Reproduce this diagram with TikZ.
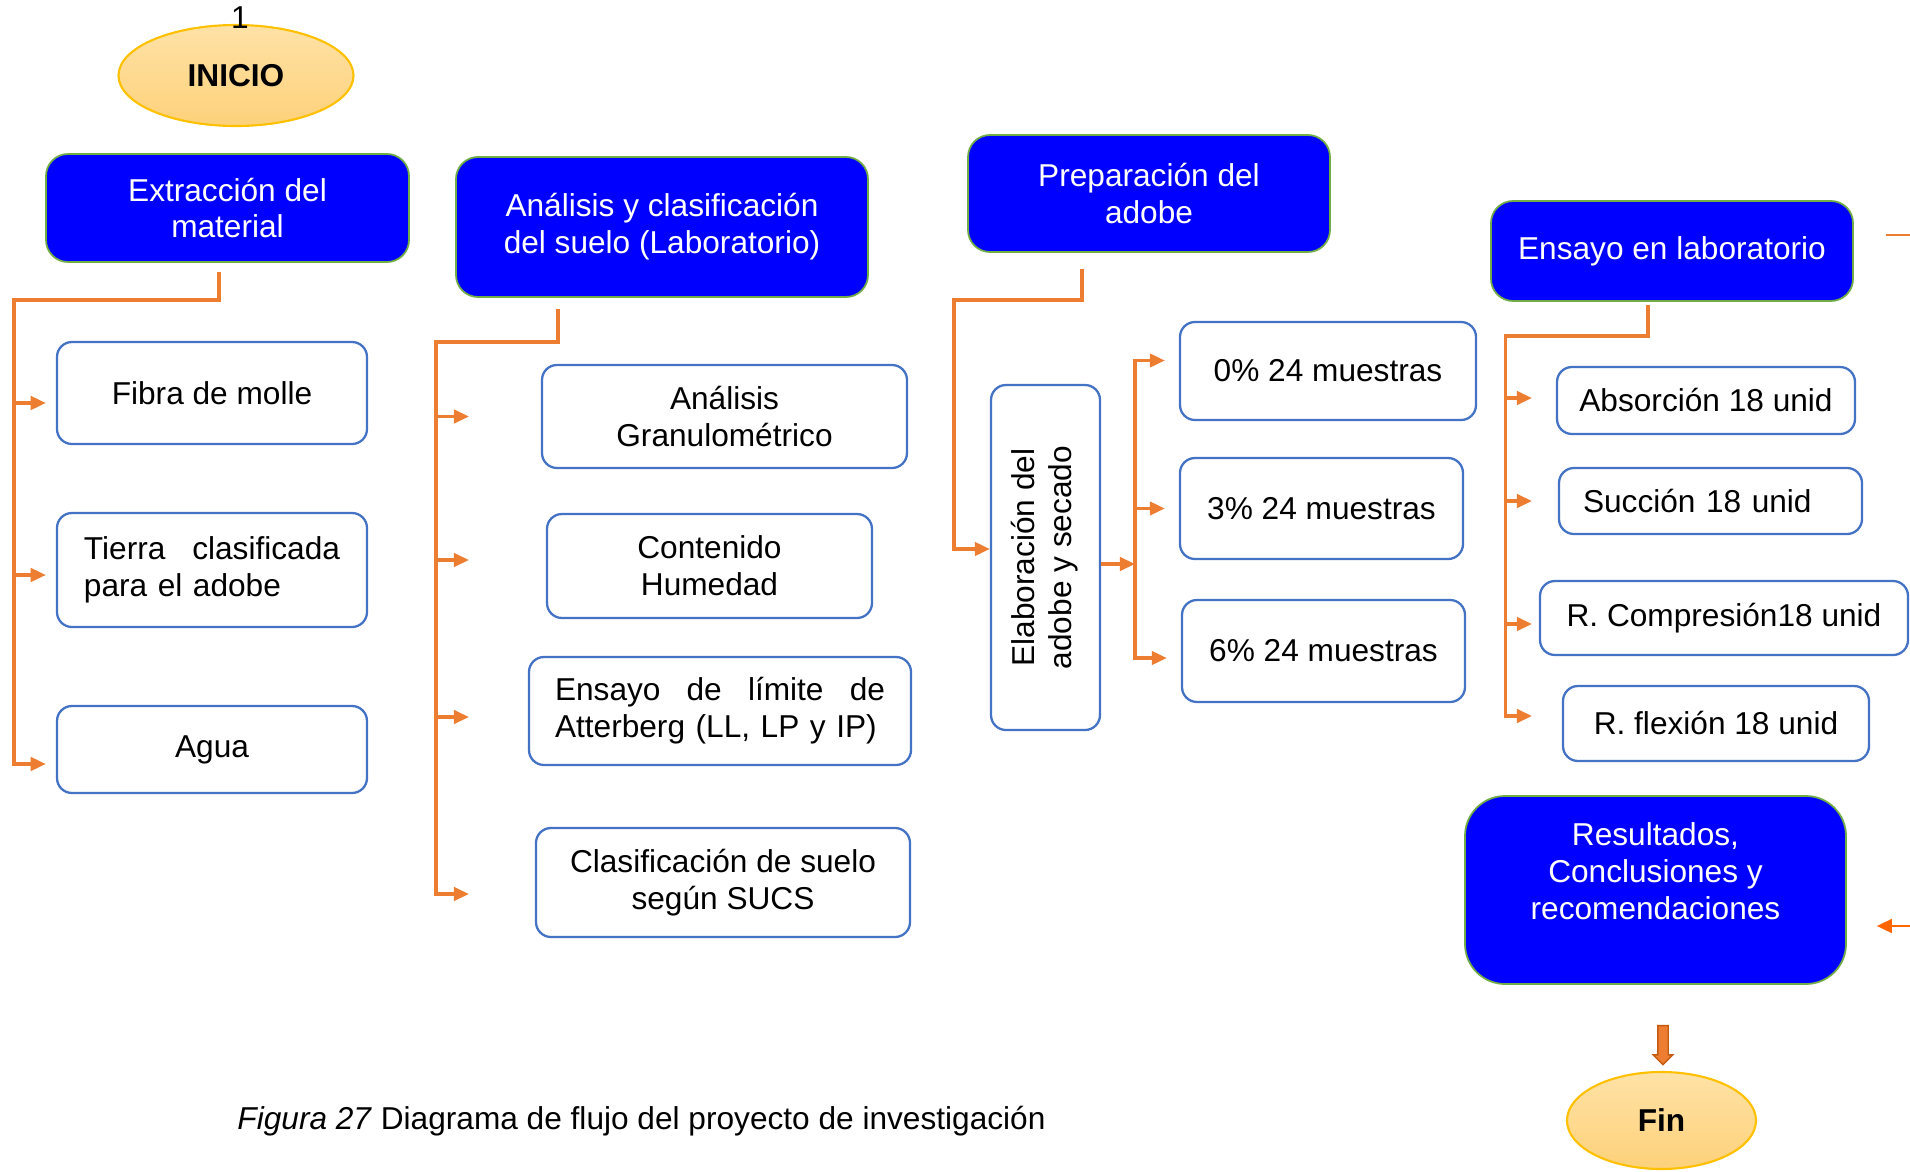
\documentclass[tikz,border=0pt]{standalone}
\usepackage{fontspec}
\setmainfont{Liberation Sans}
\usetikzlibrary{arrows.meta,shapes.geometric,shapes.arrows,positioning}

\definecolor{headblue}{HTML}{0000FF}
\definecolor{headline}{HTML}{70AD47}
\definecolor{itemline}{HTML}{4472C4}
\definecolor{linkorange}{HTML}{ED7D31}
\definecolor{ovaltop}{HTML}{FFE2A6}
\definecolor{ovalbot}{HTML}{FDD17A}
\definecolor{ovalline}{HTML}{FFC000}
\definecolor{redorange}{HTML}{FF6600}
\definecolor{darkorange}{HTML}{C55A11}

\begin{document}
\begin{tikzpicture}[
        every node/.style={font=\fontsize{9}{10.5}\selectfont},
        head/.style={draw=headline, fill=headblue, text=white, rounded corners=0.22cm, align=center, line width=0.5pt, inner sep=0pt},
        item/.style={draw=itemline, fill=white, rounded corners=0.15cm, align=center, line width=0.65pt, inner sep=0pt},
        oval/.style={ellipse, draw=ovalline, top color=ovaltop, bottom color=ovalbot, line width=0.6pt, inner sep=0pt, font=\fontsize{9}{10.5}\selectfont\bfseries},
        link/.style={draw=linkorange, line width=0.95pt, -{Triangle[length=4.3pt,width=3.8pt]}},
        blockarrow/.style={single arrow, rotate=-90, draw=darkorange, fill=linkorange, line width=0.4pt, inner sep=0.045cm, minimum width=0.18cm, minimum height=0.39cm, single arrow head extend=0.045cm}
    ]
        \useasboundingbox (0,0) rectangle (19.1,-11.72);

        % inicio y encabezados
        \node[oval, minimum width=2.35cm, minimum height=1.01cm] (inicio) at (2.36,-0.755) {INICIO};
        \node (num) at (2.40,-0.175) {1};
        \node[head, minimum width=3.63cm, minimum height=1.08cm] (extr) at (2.275,-2.08) {Extracción del\\material};
        \node[head, minimum width=4.12cm, minimum height=1.40cm] (anal) at (6.62,-2.27) {Análisis y clasificación\\del suelo (Laboratorio)};
        \node[head, minimum width=3.62cm, minimum height=1.17cm] (prep) at (11.49,-1.935) {Preparación del\\adobe};
        \node[head, minimum width=3.62cm, minimum height=1.00cm] (ens) at (16.72,-2.51) {Ensayo en laboratorio};

        % materiales
        \node[item, minimum width=3.10cm, minimum height=1.02cm] (fibra) at (2.12,-3.93) {Fibra de molle};
        \node[item, minimum width=3.10cm, minimum height=1.14cm, text width=2.56cm, align=left] (tierra) at (2.12,-5.70) {Tierra\hfill clasificada\\para el adobe};
        \node[item, minimum width=3.10cm, minimum height=0.87cm] (agua) at (2.12,-7.495) {Agua};

        % ensayos de suelo
        \node[item, minimum width=3.65cm, minimum height=1.03cm] (gran) at (7.245,-4.165) {Análisis\\Granulométrico};
        \node[item, minimum width=3.25cm, minimum height=1.04cm] (hum) at (7.095,-5.66) {Contenido\\Humedad};
        \node[item, minimum width=3.82cm, minimum height=1.08cm, text width=3.30cm, align=left] (atter) at (7.20,-7.11) {Ensayo\hfill de\hfill límite\hfill de\\Atterberg (LL, LP y IP)};
        \node[item, minimum width=3.74cm, minimum height=1.09cm] (sucs) at (7.23,-8.825) {Clasificación de suelo\\según SUCS};

        % adobe
        \node[item, minimum width=1.09cm, minimum height=3.45cm] (elab) at (10.455,-5.575) {\rotatebox{90}{\begin{tabular}{@{}c@{}}Elaboración del\\adobe y secado\end{tabular}}};
        \node[item, minimum width=2.96cm, minimum height=0.98cm] (p0) at (13.28,-3.71) {0\% 24 muestras};
        \node[item, minimum width=2.83cm, minimum height=1.01cm] (p3) at (13.215,-5.085) {3\% 24 muestras};
        \node[item, minimum width=2.83cm, minimum height=1.02cm] (p6) at (13.235,-6.51) {6\% 24 muestras};

        % ensayos del adobe
        \node[item, minimum width=2.98cm, minimum height=0.67cm] (absor) at (17.06,-4.005) {Absorción 18 unid};
        \node[item, minimum width=3.03cm, minimum height=0.66cm, text width=2.55cm, align=left] (succ) at (17.105,-5.01) {Succión 18 unid};
        \node[item, minimum width=3.68cm, minimum height=0.74cm] (comp) at (17.24,-6.18) {R. Compresión18 unid};
        \node[item, minimum width=3.06cm, minimum height=0.75cm] (flex) at (17.16,-7.235) {R. flexión 18 unid};

        % cierre
        \node[head, rounded corners=0.4cm, minimum width=3.81cm, minimum height=1.88cm] (res) at (16.555,-8.90) {};
        \node[text=white, align=center] (restxt) at (16.555,-8.715) {Resultados,\\Conclusiones y\\recomendaciones};
        \node[blockarrow] (down) at (16.63,-10.425) {};
        \node[oval, minimum width=1.89cm, minimum height=0.97cm] (fin) at (16.615,-11.205) {Fin};
        \node (caption) at (6.415,-11.21) {\textit{Figura 27} Diagrama de flujo del proyecto de investigación};

        \coordinate (trA) at (0.14,-3.00);
        \coordinate (trB) at (4.36,-3.42);
        \coordinate (trC) at (9.54,-3.00);
        \coordinate (trD) at (15.055,-3.36);
        \coordinate (tipB) at (4.69,0);
        \coordinate (tipD) at (15.32,0);
        \coordinate (mid) at (11.35,-5.64);
        \coordinate (stubA) at (18.86,-2.35);
        \coordinate (stubB) at (19.10,-2.35);
        \coordinate (edgeR) at (19.10,-9.26);

        % puntas de flecha
        \foreach \b/\s in {fibra/-0.10,tierra/-0.05,agua/-0.145}
            \path (\b.west) ++(-0.1,\s) coordinate (in-\b);
        \foreach \b/\s in {gran/0,hum/0.06,atter/-0.06,sucs/-0.115}
            \path (tipB |- \b.west) ++(0,\s) coordinate (in-\b);
        \foreach \b/\s in {p0/0.105,p3/0,p6/-0.07}
            \path (\b.west) ++(-0.14,\s) coordinate (in-\b);
        \foreach \b/\s in {absor/0.025,succ/0,comp/-0.06,flex/0.075}
            \path (tipD |- \b.west) ++(0,\s) coordinate (in-\b);

        \draw[link] ([xshift=-0.085cm,yshift=-0.09cm]extr.south) |- (trA) |- (in-agua);
        \foreach \b in {fibra,tierra}
            \draw[link] (trA |- in-\b) -- (in-\b);

        \draw[link] ([xshift=-1.04cm,yshift=-0.11cm]anal.south) |- (trB) |- (in-sucs);
        \foreach \b in {gran,hum,atter}
            \draw[link] (trB |- in-\b) -- (in-\b);

        \draw[link] ([xshift=-0.67cm,yshift=-0.16cm]prep.south) |- (trC) |- ([yshift=0.085cm]elab.west);
        \draw[link] (elab.east |- mid) -- (mid);
        \draw[link] (mid) |- (in-p0);
        \draw[link] (mid) |- (in-p6);
        \draw[link] (mid |- in-p3) -- (in-p3);

        \draw[link] ([xshift=-0.24cm,yshift=-0.035cm]ens.south) |- (trD) |- (in-flex);
        \foreach \b in {absor,succ,comp}
            \draw[link] (trD |- in-\b) -- (in-\b);

        \draw[draw=linkorange, line width=0.4pt] (stubA) -- (stubB);
        \draw[draw=redorange, line width=0.5pt, -{Triangle[length=0.15cm,width=0.14cm]}] (edgeR) -- ([xshift=0.30cm,yshift=-0.36cm]res.east);
    \end{tikzpicture}
\end{document}
